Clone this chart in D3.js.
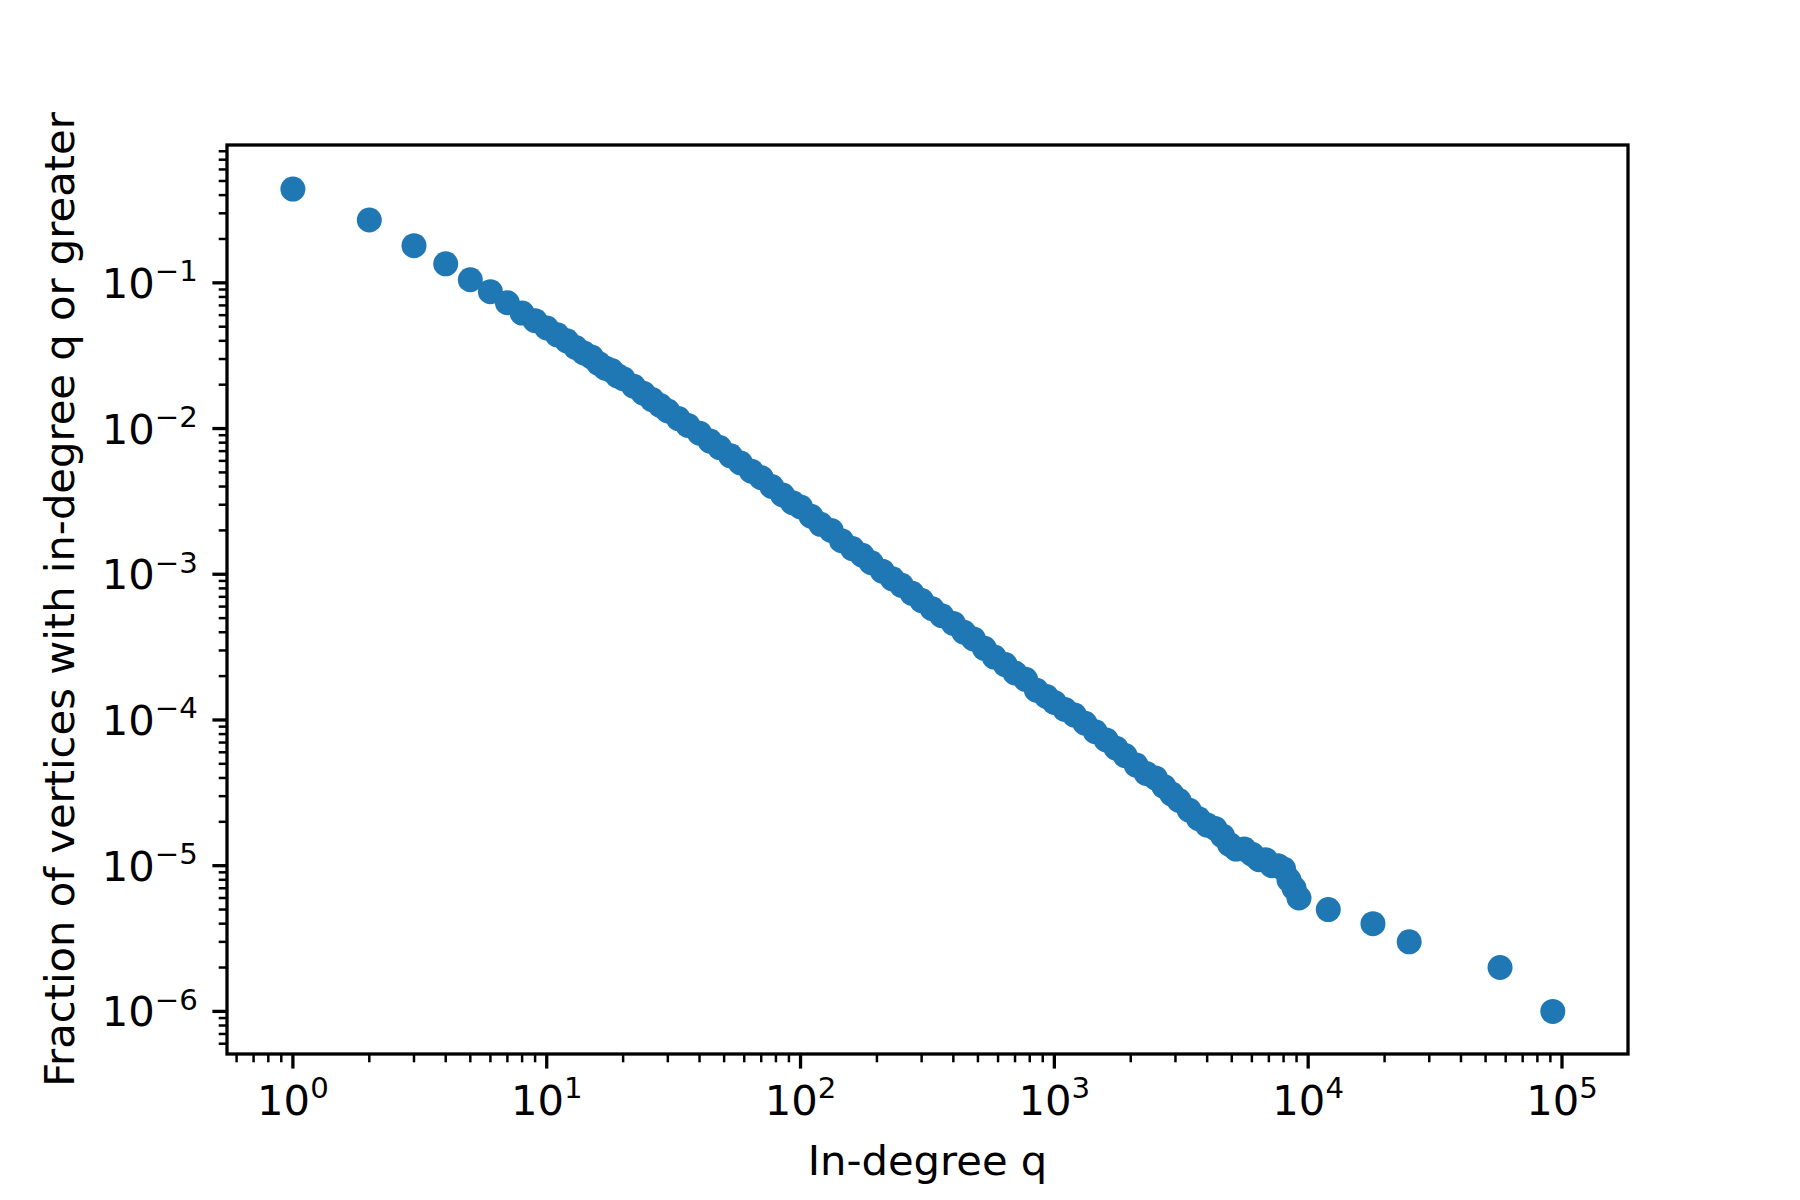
<!DOCTYPE html>
<html><head><meta charset="utf-8">
<script src="https://cdn.jsdelivr.net/npm/d3@7"></script>
<style>body{margin:0;background:#fff}text{font-family:"DejaVu Sans",sans-serif;fill:#000}</style>
</head><body><svg id="c" width="1800" height="1200"></svg>
<script>
const qValues = [1,2,3,4,5,6,7,8,9,10,11,12,13,14,15,16,17,18,19,20,22,24,26,28,30,33,36,40,44,48,53,58,64,70,77,85,93,100,110,120,132,145,160,175,190,210,230,250,275,300,330,360,400,440,480,530,580,640,700,770,850,930,1000,1100,1200,1320,1450,1600,1750,1900,2100,2300,2500,2700,2900,3100,3400,3700,4000,4300,4600,4900,5200,5600,6000,6400,6800,7200,7600,8000,8400,8800,9200,12000,18000,25000,57000,92000];
const fractionValues = [0.44,0.27,0.18,0.135,0.105,0.087,0.073,0.062,0.055,0.049,0.044,0.040,0.036,0.033,0.031,0.028,0.026,0.025,0.023,0.022,0.0195,0.0175,0.0158,0.0144,0.0132,0.0117,0.0105,0.0093,0.0082,0.0074,0.0065,0.0058,0.0051,0.0046,0.0040,0.0035,0.0031,0.0029,0.0025,0.0022,0.0020,0.0017,0.0015,0.00135,0.0012,0.00105,0.00093,0.00084,0.00074,0.00066,0.00058,0.00052,0.00046,0.00040,0.00036,0.00031,0.00027,0.00024,0.00021,0.00019,0.00016,0.000145,0.000132,0.000118,0.000108,0.000095,0.000083,0.000073,0.000064,0.000057,0.000049,0.000043,0.000040,0.000035,0.000031,0.000028,0.000024,0.000021,0.000019,0.000018,0.000016,0.000014,0.000013,0.000013,0.000012,0.000011,0.000011,0.000010,0.000010,0.0000095,0.000008,0.000007,0.000006,5e-6,4e-6,3e-6,2e-6,1e-6];
const xTickExps = [0,1,2,3,4,5];
const yTickExps = [-1,-2,-3,-4,-5,-6];

const L=227,R=1628,T=145,B=1054;
const x=d3.scaleLog().domain([0.55,1.82e5]).range([L,R]);
const y=d3.scaleLog().domain([5.1e-7,0.883]).range([B,T]);
const svg=d3.select("#c");
const fs=41.7, maj=14.6, mnr=8.3, lw=3.3;

svg.append("g").selectAll("circle").data(qValues.map((q,i)=>[q,fractionValues[i]])).join("circle")
 .attr("cx",d=>x(d[0])).attr("cy",d=>y(d[1])).attr("r",12.5).attr("fill","#1f77b4");

const ax=svg.append("g").attr("stroke","#000");
function minors(dom){const out=[];for(let e=-8;e<=6;e++)for(let m=2;m<=9;m++){const v=m*Math.pow(10,e);if(v>=dom[0]&&v<=dom[1])out.push(v);}return out;}
minors(x.domain()).forEach(v=>ax.append("line").attr("x1",x(v)).attr("x2",x(v)).attr("y1",B).attr("y2",B+mnr).attr("stroke-width",2.5));
minors(y.domain()).forEach(v=>ax.append("line").attr("y1",y(v)).attr("y2",y(v)).attr("x1",L).attr("x2",L-mnr).attr("stroke-width",2.5));
xTickExps.forEach(e=>{const px=x(Math.pow(10,e));
 ax.append("line").attr("x1",px).attr("x2",px).attr("y1",B).attr("y2",B+maj).attr("stroke-width",lw);
 const t=svg.append("text").attr("x",px).attr("y",B+maj+14.6+fs*0.76).attr("text-anchor","middle").attr("font-size",fs);
 t.append("tspan").text("10");t.append("tspan").attr("dy",-fs*0.4).attr("font-size",fs*0.7).text(e);
});
yTickExps.forEach(e=>{const py=y(Math.pow(10,e));
 ax.append("line").attr("y1",py).attr("y2",py).attr("x1",L).attr("x2",L-maj).attr("stroke-width",lw);
 const t=svg.append("text").attr("x",L-maj-14.6).attr("y",py+fs*0.36).attr("text-anchor","end").attr("font-size",fs);
 t.append("tspan").text("10");t.append("tspan").attr("dy",-fs*0.4).attr("font-size",fs*0.7).text("\u2212"+(-e));
});
svg.append("rect").attr("x",L).attr("y",T).attr("width",R-L).attr("height",B-T).attr("fill","none").attr("stroke","#000").attr("stroke-width",lw);
svg.append("text").attr("x",(L+R)/2).attr("y",1175).attr("text-anchor","middle").attr("font-size",fs).text("In-degree q");
svg.append("text").attr("transform",`translate(74,${(T+B)/2}) rotate(-90)`).attr("text-anchor","middle").attr("font-size",fs).text("Fraction of vertices with in-degree q or greater");
</script></body></html>
